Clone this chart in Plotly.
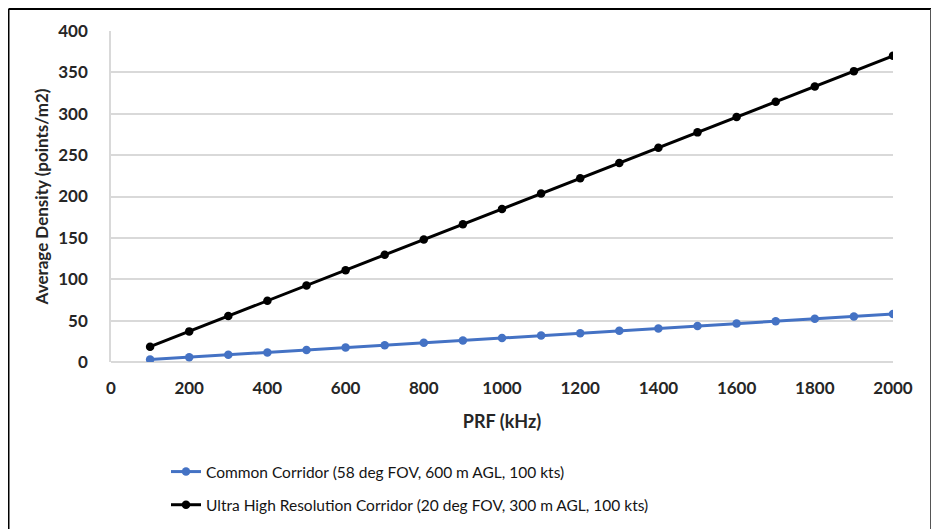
import plotly.graph_objects as go

prf_khz = [100, 200, 300, 400, 500, 600, 700, 800, 900, 1000,
           1100, 1200, 1300, 1400, 1500, 1600, 1700, 1800, 1900, 2000]
common_density = [2.9, 5.8, 8.7, 11.6, 14.5, 17.4, 20.3, 23.2, 26.1, 29.0,
                  31.9, 34.8, 37.7, 40.6, 43.5, 46.4, 49.3, 52.2, 55.1, 58.0]
uhr_density = [18.5, 37, 55.5, 74, 92.5, 111, 129.5, 148, 166.5, 185,
               203.5, 222, 240.5, 259, 277.5, 296, 314.5, 333, 351.5, 370]
series_names = ["Common Corridor (58 deg FOV, 600 m AGL, 100 kts)",
                "Ultra High Resolution Corridor (20 deg FOV, 300 m AGL, 100 kts)"]
x_ticks = list(range(0, 2001, 200))
y_ticks = list(range(0, 401, 50))

# page body has an 8px offset; positions below are in viewport pixels
OFF = 8
W, H = 939, 529
L, T = 111 - OFF, 31 - OFF
R = W - (893 - OFF)
B = H - (362 - OFF)
pw, ph = W - L - R, H - T - B

def px_x(p):
    return (p - OFF - L) / pw

def px_y(p):
    return (H - B - (p - OFF)) / ph

FONT = "Lato"
TXT = "#262626"

fig = go.Figure()
fig.add_trace(go.Scatter(x=prf_khz, y=common_density, name=series_names[0],
                         mode="lines+markers", legendgroup="a",
                         line=dict(color="#4472C4", width=3),
                         marker=dict(color="#4472C4", size=8.5)))
fig.add_trace(go.Scatter(x=prf_khz, y=uhr_density, name=series_names[1],
                         mode="lines+markers", legendgroup="b",
                         line=dict(color="#000000", width=3),
                         marker=dict(color="#000000", size=8.5)))

fig.update_layout(
    width=W, height=H,
    margin=dict(l=L, r=R, t=T, b=B),
    paper_bgcolor="white", plot_bgcolor="white",
    font=dict(family=FONT, size=15, color=TXT),
    showlegend=True,
    legend=dict(x=px_x(166), y=px_y(455), xanchor="left", yanchor="top",
                orientation="v", traceorder="grouped", tracegroupgap=10,
                font=dict(family=FONT, size=15.5, color="#141414"),
                bgcolor="rgba(0,0,0,0)", itemwidth=30),
    xaxis=dict(range=[0, 2000], tickvals=x_ticks, showgrid=False,
               zeroline=False, showline=False, ticks="",
               ticklabelstandoff=14,
               tickfont=dict(family=FONT, size=17, color=TXT, weight="bold"),
               title=dict(text="PRF (kHz)", standoff=18,
                          font=dict(family=FONT, size=18, color=TXT, weight="bold"))),
    yaxis=dict(range=[0, 400], tickvals=y_ticks, showgrid=True,
               gridcolor="#D9D9D9", gridwidth=1.5,
               zeroline=True, zerolinecolor="#D9D9D9", zerolinewidth=1.5,
               showline=True, linecolor="#D9D9D9", linewidth=1.5, ticks="",
               ticklabelstandoff=18,
               tickfont=dict(family=FONT, size=17, color=TXT, weight="bold"),
               title=dict(text="Average Density (points/m2)", standoff=5,
                          font=dict(family=FONT, size=17, color=TXT, weight="bold"))),
    shapes=[
        dict(type="line", xref="paper", yref="paper",
             x0=px_x(8.5), x1=px_x(8.5), y0=px_y(9), y1=px_y(540),
             line=dict(color="black", width=2)),
        dict(type="line", xref="paper", yref="paper",
             x0=px_x(8.5), x1=px_x(931), y0=px_y(9), y1=px_y(9),
             line=dict(color="black", width=2)),
        dict(type="line", xref="paper", yref="paper",
             x0=px_x(931), x1=px_x(931), y0=px_y(9), y1=px_y(540),
             line=dict(color="#555555", width=2)),
    ],
)

fig.write_html("out.html")
